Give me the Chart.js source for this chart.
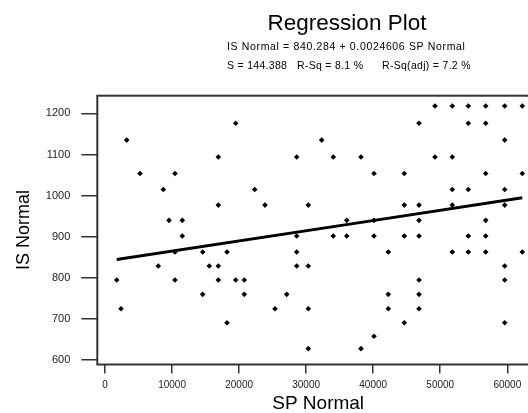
<!DOCTYPE html>
<html>
<head>
<meta charset="utf-8">
<script src="https://cdn.jsdelivr.net/npm/chart.js@4.4.1/dist/chart.umd.min.js"></script>
<style>
  html, body { margin: 0; padding: 0; background: #fff; overflow: hidden; }
  #wrap { width: 528px; height: 413px; overflow: hidden; }
</style>
</head>
<body>
<div id="wrap"><canvas id="chart" width="545" height="413"></canvas></div>
<script>
// tick labels
const xTicks = [0, 10000, 20000, 30000, 40000, 50000, 60000];
const yTicks = [600, 700, 800, 900, 1000, 1100, 1200];

const spNormal = [
  3236, 19493, 5220, 10440, 16898, 28591, 8695, 22327, 16898, 23863, 30321,
  9545, 11529, 11529, 28591, 1745, 2386, 7949, 10440, 10440, 14571, 14571,
  15556, 16898, 16898, 18195, 18195, 19493, 20776, 20776, 25354, 27099,
  28591, 28591, 30321, 30321, 30321,
  49217, 51797, 54183, 56779, 59612, 62237,
  46831, 54183, 56779,
  32319, 59612,
  34049, 38180, 49217, 51797,
  40119, 44638, 56779, 62237,
  51797, 54183, 59612,
  44638, 46831, 51797, 59612,
  36048, 40119, 46831, 56779,
  34049, 36048, 40119, 44638, 46831, 54183, 56779,
  42252, 51797, 54183, 56779, 62237,
  59612,
  46831, 59612,
  42252, 46831,
  42252, 46831,
  44638, 59612,
  40119,
  38180
];
const isNormal = [
  1135, 1176, 1054, 1054, 1094, 1094, 1015, 1015, 977, 977, 977,
  940, 940, 902, 902, 795, 725, 829, 863, 795, 863, 760,
  829, 829, 795, 863, 691, 795, 795, 760, 725, 760,
  863, 829, 829, 725, 628,
  1218, 1218, 1218, 1218, 1218, 1218,
  1176, 1176, 1176,
  1135, 1135,
  1094, 1094, 1094, 1094,
  1054, 1054, 1054, 1054,
  1015, 1015, 1015,
  977, 977, 977, 977,
  940, 940, 940, 940,
  902, 902, 902, 902, 902, 902, 902,
  863, 863, 863, 863, 863,
  829,
  795, 795,
  760, 760,
  725, 725,
  691, 691,
  658,
  628
];

// fitted line, read at a few places along it
const fitSp = [1745, 37000, 62237];
const fitIs = [845, 932, 995];

const FONT = "'Liberation Sans', Arial, sans-serif";

const points = spNormal.map((x, i) => ({ x: x, y: isNormal[i] }));
const fitLine = fitSp.map((x, i) => ({ x: x, y: fitIs[i] }));

const framePlugin = {
  id: 'frame',
  beforeDraw(chart) {
    const ctx = chart.ctx;
    ctx.save();
    ctx.fillStyle = '#fff';
    ctx.fillRect(0, 0, chart.width, chart.height);
    ctx.restore();
  },
  afterDraw(chart) {
    const ctx = chart.ctx;
    const a = chart.chartArea;
    ctx.save();
    ctx.strokeStyle = '#333';
    ctx.lineWidth = 2;
    ctx.strokeRect(a.left, a.top, a.right - a.left, a.bottom - a.top);

    ctx.fillStyle = '#000';
    ctx.textBaseline = 'alphabetic';
    ctx.textAlign = 'center';
    ctx.font = '22.5px ' + FONT;
    ctx.fillText('Regression Plot', 347, 29.5);

    ctx.textAlign = 'left';
    ctx.font = '10.5px ' + FONT;
    ctx.letterSpacing = '0.65px';
    ctx.fillText('IS Normal = 840.284 + 0.0024606 SP Normal', 227, 50);
    ctx.letterSpacing = '0.3px';
    ctx.fillText('S = 144.388', 227, 69);
    ctx.fillText('R-Sq = 8.1 %', 297, 69);
    ctx.fillText('R-Sq(adj) = 7.2 %', 382, 69);
    ctx.restore();
  }
};

new Chart(document.getElementById('chart'), {
  type: 'scatter',
  data: {
    datasets: [
      {
        label: 'IS Normal',
        data: points,
        pointStyle: 'rectRot',
        pointRadius: 2.8,
        backgroundColor: '#000',
        borderWidth: 0,
        order: 2
      },
      {
        type: 'line',
        label: 'Fit',
        data: fitLine,
        borderColor: '#000',
        borderWidth: 3,
        pointRadius: 0,
        tension: 0,
        fill: false,
        order: 1
      }
    ]
  },
  options: {
    responsive: false,
    animation: false,
    layout: { padding: { top: 95.7, right: 6, left: 0, bottom: 0 } },
    plugins: {
      legend: { display: false },
      tooltip: { enabled: false }
    },
    scales: {
      x: {
        type: 'linear',
        min: -1148,
        max: 64728,
        afterBuildTicks: (s) => { s.ticks = xTicks.map(v => ({ value: v })); },
        afterFit: (s) => { s.height = 48.5; },
        border: { display: false },
        grid: {
          drawOnChartArea: false,
          drawTicks: true,
          tickLength: 9,
          color: '#333',
          lineWidth: 1.5
        },
        ticks: {
          color: '#222',
          padding: 6,
          maxRotation: 0,
          autoSkip: false,
          font: { family: FONT, size: 10 },
          callback: (v) => String(v)
        },
        title: {
          display: true,
          text: 'SP Normal',
          color: '#000',
          font: { family: FONT, size: 19, lineHeight: 1 },
          padding: { top: 0, bottom: 0 }
        }
      },
      y: {
        type: 'linear',
        min: 589.5,
        max: 1243,
        afterBuildTicks: (s) => { s.ticks = yTicks.map(v => ({ value: v })); },
        afterFit: (s) => { s.width = 97.3; },
        border: { display: false },
        grid: {
          drawOnChartArea: false,
          drawTicks: true,
          tickLength: 16,
          color: '#333',
          lineWidth: 1.5
        },
        ticks: {
          color: '#222',
          padding: 11,
          autoSkip: false,
          font: { family: FONT, size: 11 },
          callback: (v) => String(v)
        },
        title: {
          display: true,
          text: 'IS Normal',
          color: '#000',
          font: { family: FONT, size: 18, lineHeight: 1 },
          padding: { top: 15, bottom: 0 }
        }
      }
    }
  },
  plugins: [framePlugin]
});
</script>
</body>
</html>
